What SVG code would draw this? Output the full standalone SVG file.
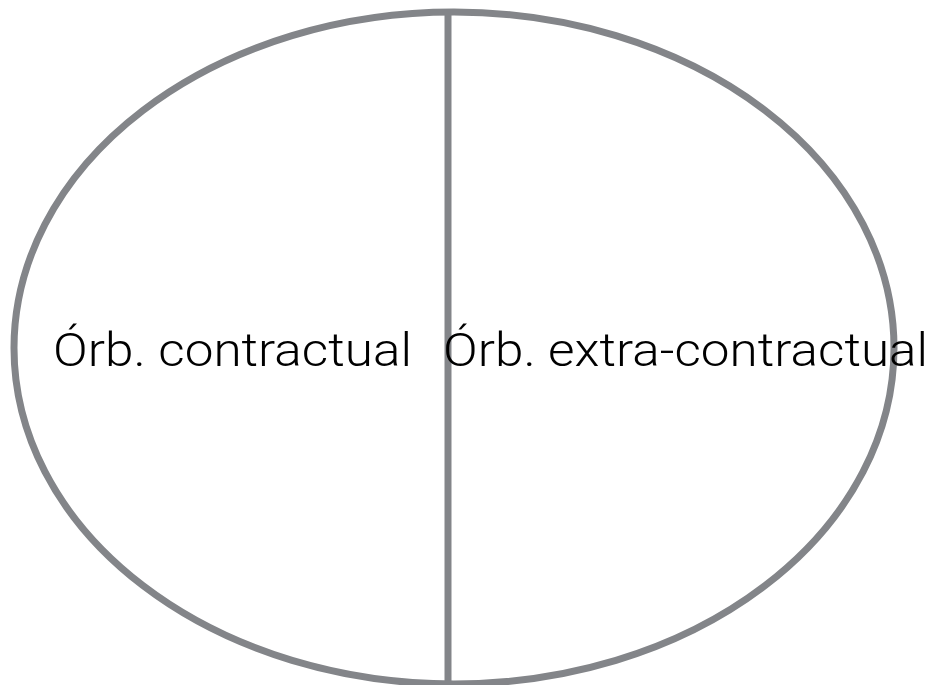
<svg xmlns="http://www.w3.org/2000/svg" width="935" height="685" viewBox="0 0 935 685">
<style>
.sh{fill:none;stroke:#838589;stroke-width:7}
.t{font-family:Roboto,"Liberation Sans",Arial,sans-serif;font-weight:300;font-size:47px;fill:#000}
</style>
<rect width="935" height="685" fill="#fff"/>
<g id="oval"><ellipse class="sh" cx="454" cy="348" rx="440" ry="336"/></g>
<g id="connectors"><line class="sh" x1="448" y1="14" x2="448" y2="682"/></g>
<g id="left"><text class="t" x="53" y="366" textLength="359" lengthAdjust="spacingAndGlyphs">Órb. contractual</text></g>
<g id="right"><text class="t" x="443" y="366" textLength="485" lengthAdjust="spacingAndGlyphs">Órb. extra-contractual</text></g>
</svg>
